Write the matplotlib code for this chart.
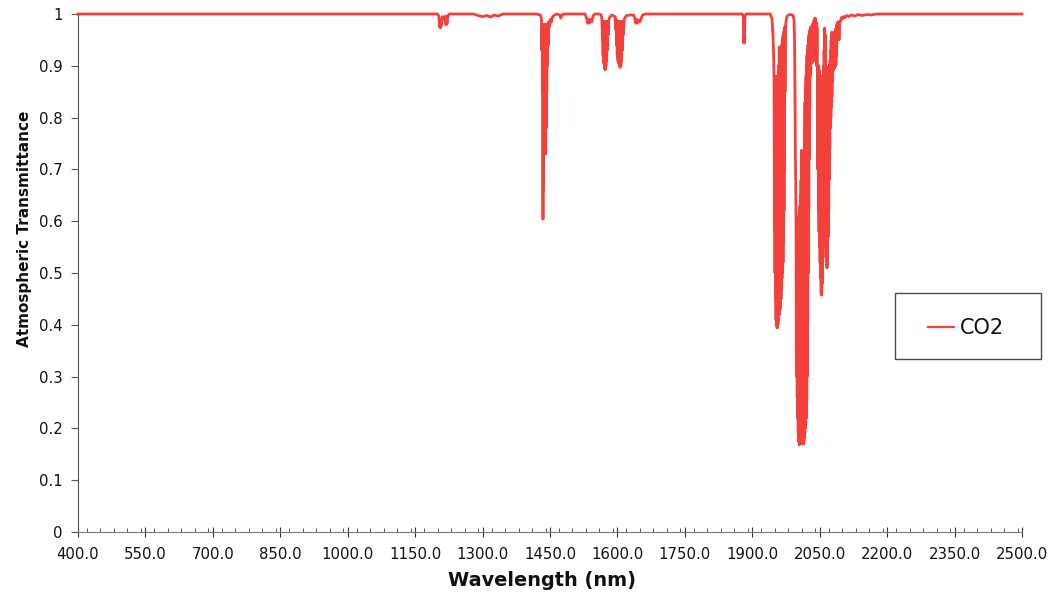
import numpy as np
import matplotlib
matplotlib.use("Agg")
import matplotlib.pyplot as plt
from matplotlib.patches import Rectangle
from matplotlib.ticker import MultipleLocator, FixedLocator

# ---------------- data ----------------
series_name = "CO2"
x_label = "Wavelength (nm)"
y_label = "Atmospheric Transmittance"

x_ticks = [400, 550, 700, 850, 1000, 1150, 1300, 1450, 1600, 1750, 1900, 2050, 2200, 2350, 2500]
x_tick_labels = ["400.0", "550.0", "700.0", "850.0", "1000.0", "1150.0", "1300.0", "1450.0",
                 "1600.0", "1750.0", "1900.0", "2050.0", "2200.0", "2350.0", "2500.0"]
y_ticks = [0, 0.1, 0.2, 0.3, 0.4, 0.5, 0.6, 0.7, 0.8, 0.9, 1.0]
y_tick_labels = ["0", "0.1", "0.2", "0.3", "0.4", "0.5", "0.6", "0.7", "0.8", "0.9", "1"]

start_wl = [400, 800, 1195]
start_tr = [1.0, 1.0, 1.0]

band_1205_wl = [1200, 1203, 1204.5, 1205.5, 1206.5, 1207.5, 1209, 1210.5, 1213, 1215, 1217, 1218.5, 1219.5, 1221, 1223, 1226]
band_1205_tr = [1.0, 0.995, 0.975, 0.99, 0.973, 0.988, 0.978, 0.995, 0.993, 0.99, 0.996, 0.979, 0.992, 0.982, 0.997, 1.0]

ripple_1320_wl = [1280, 1290, 1300, 1310, 1318, 1325, 1335, 1345]
ripple_1320_tr = [1.0, 0.997, 0.995, 0.997, 0.994, 0.998, 0.996, 1.0]

band_1435_wl = [1420, 1429, 1431, 1432, 1432.6, 1433.2, 1433.8, 1434.4, 1435, 1435.6,
                1436.2, 1436.8, 1437.4, 1438, 1438.6, 1439.2, 1439.8, 1440.4, 1441, 1441.6,
                1442.2, 1442.8, 1443.4, 1444, 1445, 1446, 1447, 1449, 1451, 1453,
                1456, 1460, 1465, 1472, 1474, 1477, 1480]
band_1435_tr = [1.0, 0.998, 0.99, 0.93, 0.975, 0.85, 0.975, 0.604, 0.98, 0.66,
                0.98, 0.78, 0.98, 0.80, 0.98, 0.82, 0.98, 0.73, 0.98, 0.78,
                0.98, 0.85, 0.98, 0.90, 0.98, 0.94, 0.985, 0.975, 0.99, 0.985,
                0.995, 0.998, 1.0, 0.998, 0.992, 0.998, 1.0]

band_1540_wl = [1528, 1532, 1534, 1536, 1538, 1541, 1543, 1546, 1550]
band_1540_tr = [1.0, 0.99, 0.982, 0.99, 0.983, 0.99, 0.985, 0.997, 1.0]

band_1572_wl = [1560, 1564, 1565.5, 1566.5, 1567.2, 1568, 1568.8, 1569.6, 1570.4, 1571.2,
                1572, 1572.8, 1573.6, 1574.4, 1575.2, 1576, 1576.8, 1577.6, 1578.4, 1579.5,
                1581, 1584, 1588, 1592]
band_1572_tr = [1.0, 0.998, 0.99, 0.95, 0.985, 0.92, 0.985, 0.905, 0.985, 0.895,
                0.985, 0.892, 0.985, 0.90, 0.985, 0.91, 0.985, 0.93, 0.985, 0.96,
                0.99, 0.995, 0.998, 0.996]

band_1606_wl = [1595, 1596, 1597, 1598, 1598.8, 1599.6, 1600.4, 1601.2, 1602, 1602.8,
                1603.6, 1604.4, 1605.2, 1606, 1606.8, 1607.6, 1608.4, 1609.2, 1610, 1611,
                1612, 1613.5, 1615, 1620, 1630]
band_1606_tr = [0.995, 0.97, 0.99, 0.94, 0.985, 0.92, 0.985, 0.91, 0.985, 0.905,
                0.985, 0.90, 0.985, 0.897, 0.985, 0.90, 0.985, 0.91, 0.985, 0.93,
                0.985, 0.96, 0.99, 0.997, 0.998]

band_1646_wl = [1636, 1639, 1641, 1643, 1645, 1648, 1650, 1653, 1656, 1662]
band_1646_tr = [0.998, 0.99, 0.982, 0.99, 0.983, 0.988, 0.985, 0.992, 0.998, 1.0]

band_1882_wl = [1700, 1878, 1880, 1881, 1881.8, 1882.6, 1883.6, 1886]
band_1882_tr = [1.0, 1.0, 0.995, 0.944, 0.97, 0.944, 0.995, 1.0]

band_1960_wl = [1920, 1940, 1944, 1946, 1947.5, 1948.5, 1949.4, 1950.0, 1950.5, 1951.1,
                1951.7, 1952.2, 1952.8, 1953.3, 1953.9, 1954.5, 1955.0, 1955.6, 1956.1, 1956.7,
                1957.2, 1957.8, 1958.3, 1958.9, 1959.5, 1960.0, 1960.6, 1961.1, 1961.7, 1962.2,
                1962.8, 1963.3, 1963.9, 1964.5, 1965.0, 1965.6, 1966.1, 1966.7, 1967.2, 1967.8,
                1968.4, 1968.9, 1969.5, 1970.0, 1970.6, 1971.1, 1971.7, 1972.2, 1972.8, 1973.5,
                1975, 1977, 1980, 1985, 1990, 1992.8, 1994, 1995, 1996]
band_1960_tr = [1.0, 1.0, 0.99, 0.96, 0.92, 0.87, 0.58, 0.86, 0.50, 0.87,
                0.45, 0.86, 0.41, 0.88, 0.40, 0.87, 0.395, 0.86, 0.394, 0.87,
                0.40, 0.88, 0.41, 0.90, 0.42, 0.936, 0.42, 0.90, 0.43, 0.91,
                0.44, 0.92, 0.45, 0.93, 0.47, 0.94, 0.49, 0.95, 0.50, 0.955,
                0.52, 0.96, 0.56, 0.965, 0.62, 0.97, 0.70, 0.975, 0.85, 0.97,
                0.985, 0.995, 0.998, 0.999, 0.998, 0.99, 0.95, 0.85, 0.72]

band_2010_wl = [1997.3, 1998.0, 1998.5, 1999.0, 1999.5, 2000.0, 2000.6, 2001.1, 2001.7, 2002.2,
                2002.8, 2003.3, 2003.9, 2004.5, 2005.0, 2005.6, 2006.1, 2006.7, 2007.2, 2007.8,
                2008.4, 2008.9, 2009.5, 2010.0, 2010.6, 2011.1, 2011.7, 2012.2, 2012.8, 2013.3,
                2013.9, 2014.5, 2015.0, 2015.6, 2016.1, 2016.7, 2017.2, 2017.8, 2018.4, 2018.9,
                2019.5, 2020.0, 2020.6, 2021.1, 2021.7, 2022.2, 2022.8, 2023.3, 2023.9, 2024.5,
                2025.0, 2025.6, 2026.1, 2026.7, 2027.2, 2027.8, 2028.4]
band_2010_tr = [0.62, 0.35, 0.59, 0.30, 0.58, 0.26, 0.59, 0.22, 0.60, 0.19,
                0.60, 0.175, 0.61, 0.168, 0.62, 0.17, 0.63, 0.175, 0.65, 0.17,
                0.68, 0.18, 0.737, 0.19, 0.62, 0.18, 0.60, 0.17, 0.62, 0.175,
                0.66, 0.17, 0.72, 0.18, 0.78, 0.19, 0.83, 0.20, 0.86, 0.21,
                0.88, 0.22, 0.90, 0.25, 0.92, 0.30, 0.93, 0.40, 0.94, 0.50,
                0.95, 0.62, 0.96, 0.72, 0.965, 0.82, 0.97]

band_2040_wl = [2029.0, 2030.0, 2031.0, 2032.0, 2033.0, 2034.0, 2035.0, 2036.0, 2037.0,
                2038.0, 2039.0, 2040.0, 2041.0, 2042.0, 2043.0, 2044.0, 2045.0]
band_2040_tr = [0.88, 0.975, 0.91, 0.97, 0.905, 0.98, 0.92, 0.985, 0.91,
                0.99, 0.93, 0.992, 0.92, 0.985, 0.90, 0.975, 0.88]

band_2054_wl = [2046.0, 2046.6, 2047.2, 2047.8, 2048.4, 2049.0, 2049.6, 2050.2, 2050.8, 2051.4,
                2052.0, 2052.6, 2053.2, 2053.8, 2054.4, 2055.0, 2055.6, 2056.2, 2056.8, 2057.4]
band_2054_tr = [0.70, 0.90, 0.62, 0.90, 0.58, 0.89, 0.55, 0.89, 0.52, 0.88,
                0.49, 0.88, 0.46, 0.87, 0.457, 0.86, 0.48, 0.85, 0.55, 0.80]

band_2066_wl = [2058.0, 2058.6, 2059.2, 2059.8, 2060.4, 2061.0, 2061.6, 2062.2, 2062.8, 2063.4,
                2064.0, 2064.6, 2065.2, 2065.8, 2066.4, 2067.0, 2067.6, 2068.2, 2068.8, 2069.4,
                2070.0, 2070.6, 2071.2, 2071.8, 2072.4, 2073.0, 2073.6, 2074.2, 2074.8, 2075.4,
                2076.0, 2076.6, 2077.2, 2077.8, 2078.4, 2079.0, 2079.6, 2080.5, 2081.2, 2082.0,
                2082.8, 2083.6, 2084.4, 2085.2, 2086.0, 2086.8, 2087.6, 2088.5, 2089.5, 2090.5]
band_2066_tr = [0.62, 0.90, 0.60, 0.93, 0.58, 0.973, 0.57, 0.96, 0.55, 0.90,
                0.53, 0.89, 0.515, 0.89, 0.51, 0.89, 0.53, 0.89, 0.57, 0.89,
                0.62, 0.90, 0.68, 0.90, 0.74, 0.91, 0.78, 0.93, 0.80, 0.95,
                0.82, 0.965, 0.84, 0.95, 0.87, 0.94, 0.89, 0.96, 0.90, 0.965,
                0.895, 0.965, 0.898, 0.97, 0.90, 0.975, 0.92, 0.98, 0.95, 0.985]

tail_wl = [2092, 2093, 2094.5, 2096, 2098, 2100, 2103, 2106, 2110, 2115,
           2120, 2128, 2135, 2145, 2155, 2165, 2175, 2300, 2500]
tail_tr = [0.975, 0.95, 0.985, 0.985, 0.993, 0.99, 0.995, 0.993, 0.997, 0.995,
           0.998, 0.996, 0.999, 0.997, 0.999, 0.998, 1.0, 1.0, 1.0]

wavelength = np.concatenate([start_wl, band_1205_wl, ripple_1320_wl, band_1435_wl, band_1540_wl,
                             band_1572_wl, band_1606_wl, band_1646_wl, band_1882_wl, band_1960_wl,
                             band_2010_wl, band_2040_wl, band_2054_wl, band_2066_wl, tail_wl])
transmittance = np.concatenate([start_tr, band_1205_tr, ripple_1320_tr, band_1435_tr, band_1540_tr,
                                band_1572_tr, band_1606_tr, band_1646_tr, band_1882_tr, band_1960_tr,
                                band_2010_tr, band_2040_tr, band_2054_tr, band_2066_tr, tail_tr])

# ---------------- figure ----------------
plt.rcParams['font.family'] = ['DejaVu Sans']
W, H = 1054, 595
fig = plt.figure(figsize=(W / 100, H / 100), dpi=100)
fig.patch.set_facecolor('white')

ax = fig.add_axes([78 / W, 1 - 532 / H, 944 / W, 518 / H])
line_color = '#f4403a'
ax.plot(wavelength, transmittance, color=line_color, lw=2.0, clip_on=False,
        solid_joinstyle='round', label=series_name)

ax.set_xlim(400, 2500)
ax.set_ylim(0, 1)

for s in ('top', 'right'):
    ax.spines[s].set_visible(False)
ax.spines['left'].set_color('#555555')
ax.spines['left'].set_linewidth(0.8)
ax.spines['bottom'].set_color('#7a7a7a')
ax.spines['bottom'].set_linewidth(0.8)

ax.xaxis.set_major_locator(FixedLocator(x_ticks))
ax.set_xticklabels(x_tick_labels)
ax.xaxis.set_minor_locator(MultipleLocator(30))
ax.yaxis.set_major_locator(FixedLocator(y_ticks))
ax.set_yticklabels(y_tick_labels)

ax.tick_params(axis='x', which='major', direction='inout', length=7, width=0.8,
               color='#333333', labelsize=10.7, labelcolor='#111111', pad=7)
ax.tick_params(axis='x', which='minor', direction='in', length=3, width=0.7, color='#555555')
ax.tick_params(axis='y', which='major', direction='out', length=5, width=0.8,
               color='#555555', labelsize=10.7, labelcolor='#111111', pad=6)

ax.set_xlabel(x_label, fontsize=13.9, fontweight='bold', color='#111111')
ax.xaxis.set_label_coords(0.491, -0.075)
ax.set_ylabel(y_label, fontsize=11, fontweight='bold', color='#111111')
ax.yaxis.set_label_coords(-0.049, 0.586)

# legend box
fig.patches.append(Rectangle((895 / W, 1 - 359 / H), 146 / W, 66 / H, transform=fig.transFigure,
                             fill=True, facecolor='white', edgecolor='#4a4a4a', lw=1.0, zorder=5))
leg = fig.legend(loc='center', bbox_to_anchor=(966 / W, 1 - 328 / H), bbox_transform=fig.transFigure,
                 frameon=False, fontsize=15, handlelength=1.25, handletextpad=0.3)
leg.set_zorder(6)
for lh in leg.get_lines():
    lh.set_linewidth(1.6)
for t in leg.get_texts():
    t.set_color('#111111')

fig.savefig('out.png', dpi=100)
